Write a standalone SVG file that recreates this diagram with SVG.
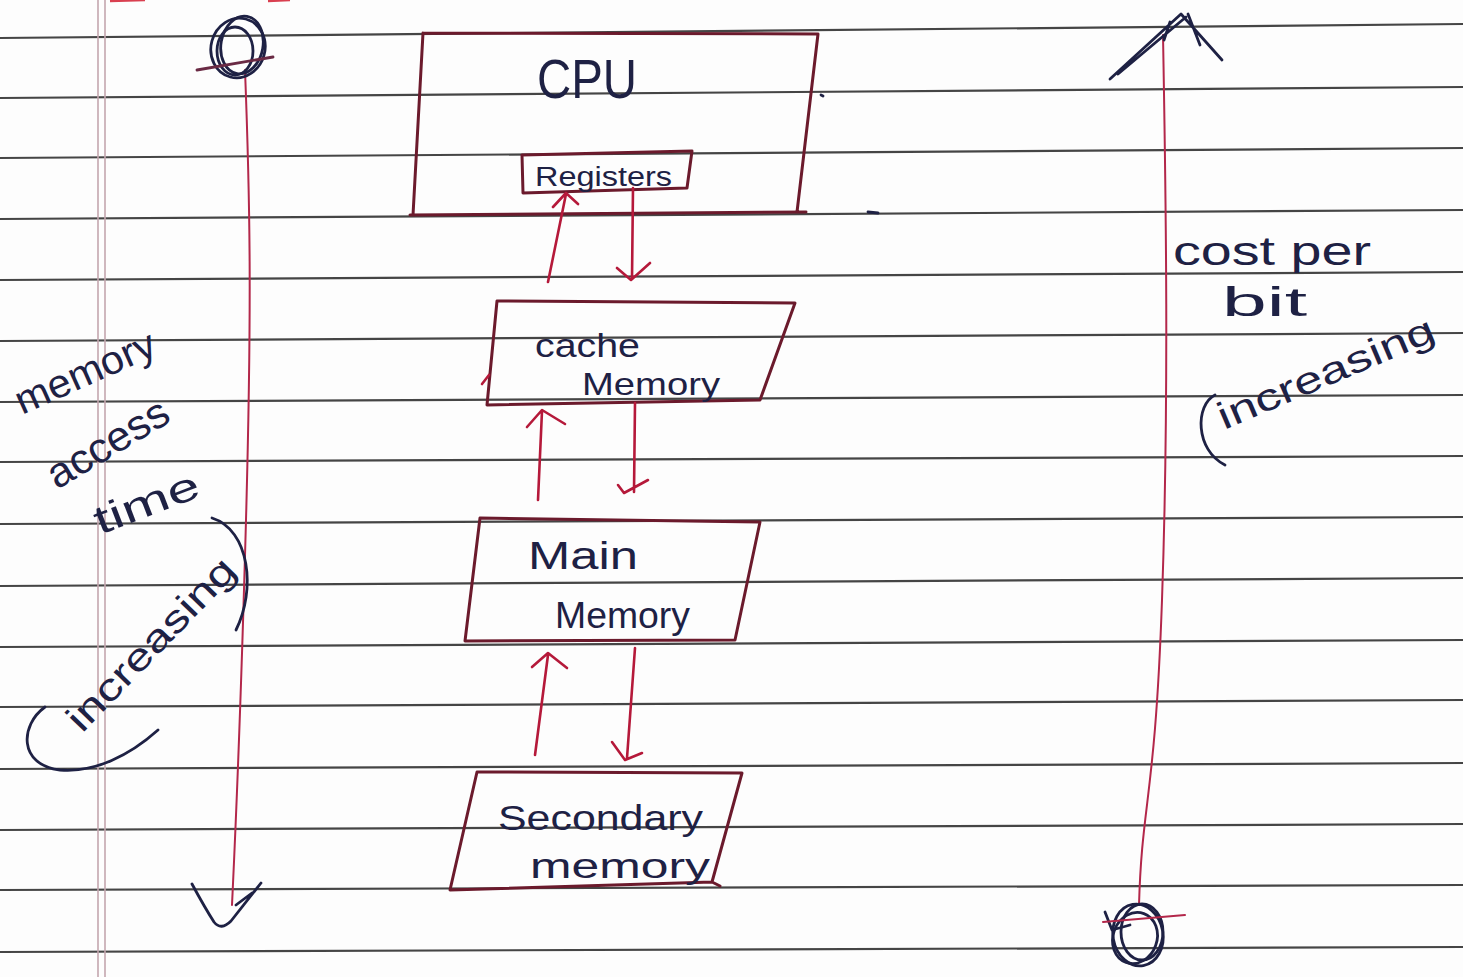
<svg xmlns="http://www.w3.org/2000/svg" width="1463" height="977" viewBox="0 0 1463 977">
<style>
.rule{stroke:#454545;stroke-width:2.2;fill:none}
.margin{stroke:#c3a6ae;stroke-width:1.6;fill:none}
.box{stroke:#6b1a2c;stroke-width:3;fill:none;stroke-linejoin:round;stroke-linecap:round}
.arrow{stroke:#b5193a;stroke-width:2.6;fill:none;stroke-linecap:round;stroke-linejoin:round}
.axis{stroke:#b3274a;stroke-width:2;fill:none;stroke-linecap:round}
.ink{stroke:#1e2144;stroke-width:2.8;fill:none;stroke-linecap:round;stroke-linejoin:round}
.t{font-family:"Liberation Sans","DejaVu Sans",sans-serif;fill:#1e2144}
</style>
<g id="paper">
<rect x="0" y="0" width="1463" height="977" fill="#fdfdfd"/>
<line class="rule" x1="0" y1="38" x2="1463" y2="24"/>
<line class="rule" x1="0" y1="98" x2="1463" y2="87"/>
<line class="rule" x1="0" y1="158" x2="1463" y2="148"/>
<line class="rule" x1="0" y1="219" x2="1463" y2="210"/>
<line class="rule" x1="0" y1="280" x2="1463" y2="272"/>
<line class="rule" x1="0" y1="341" x2="1463" y2="333"/>
<line class="rule" x1="0" y1="402" x2="1463" y2="395"/>
<line class="rule" x1="0" y1="462" x2="1463" y2="456"/>
<line class="rule" x1="0" y1="524" x2="1463" y2="517"/>
<line class="rule" x1="0" y1="586" x2="1463" y2="578"/>
<line class="rule" x1="0" y1="647" x2="1463" y2="640"/>
<line class="rule" x1="0" y1="707" x2="1463" y2="700"/>
<line class="rule" x1="0" y1="769" x2="1463" y2="763"/>
<line class="rule" x1="0" y1="830" x2="1463" y2="824"/>
<line class="rule" x1="0" y1="890" x2="1463" y2="885"/>
<line class="rule" x1="0" y1="952" x2="1463" y2="947"/>
<line class="margin" x1="98" y1="0" x2="98" y2="977"/>
<line class="margin" x1="105" y1="0" x2="105" y2="977" stroke="#b9b0b3"/>
<path d="M110 1 L145 0 M268 1 L290 0" stroke="#d94050" stroke-width="2.5" fill="none"/>
<path d="M821 95 l2 1 M868 212 l10 1" class="ink" stroke-width="2.2"/>
</g>
<g id="cpu">
<path class="box" d="M423 33 L818 34 L797 212 M806 212 L410 215 M423 33 L413 215"/>
<text class="t" x="537" y="98" font-size="56" textLength="100" lengthAdjust="spacingAndGlyphs">CPU</text>
</g>
<g id="registers">
<path class="box" d="M522 155 L692 151 L687 188 L523 193 Z"/>
<text class="t" x="535" y="186" font-size="27" textLength="137" lengthAdjust="spacingAndGlyphs">Registers</text>
</g>
<g id="cache-memory">
<path class="box" d="M497 301 L795 303 L760 400 L487 405 Z"/>
<path class="arrow" d="M482 384 L489 375" stroke-width="2"/>
<text class="t" x="535" y="357" font-size="34" textLength="105" lengthAdjust="spacingAndGlyphs">cache</text>
<text class="t" x="582" y="395" font-size="32" textLength="138" lengthAdjust="spacingAndGlyphs">Memory</text>
</g>
<g id="main-memory">
<path class="box" d="M480 518 L760 522 L735 640 L465 641 Z"/>
<text class="t" x="528" y="569" font-size="38" textLength="110" lengthAdjust="spacingAndGlyphs">Main</text>
<text class="t" x="555" y="628" font-size="36" textLength="135" lengthAdjust="spacingAndGlyphs">Memory</text>
</g>
<g id="secondary-memory">
<path class="box" d="M477 772 L742 773 L712 882 L450 890 Z M712 882 L720 886"/>
<text class="t" x="498" y="830" font-size="35" textLength="205" lengthAdjust="spacingAndGlyphs">Secondary</text>
<text class="t" x="530" y="878" font-size="35" textLength="180" lengthAdjust="spacingAndGlyphs">memory</text>
</g>
<g id="connectors">
<path class="arrow" d="M548 282 L566 194 M553 207 L566 193 L578 204"/>
<path class="arrow" d="M633 188 L632 279 M617 268 L631 280 L650 263"/>
<path class="arrow" d="M538 500 L542 411 M527 427 L542 410 L565 424"/>
<path class="arrow" d="M635 403 L634 492 M618 485 L624 493 L648 480"/>
<path class="arrow" d="M535 755 L548 655 M532 667 L548 653 L567 668"/>
<path class="arrow" d="M635 648 L627 758 M612 742 L625 760 L642 753"/>
</g>
<g id="access-time-axis">
<path class="axis" d="M245 70 C 250 200, 252 300, 246 520 S 236 820, 232 905"/>
<g class="ink">
<ellipse cx="238" cy="48" rx="27" ry="30" transform="rotate(15 238 48)"/>
<ellipse cx="242" cy="45" rx="21" ry="29" transform="rotate(10 242 45)"/>
<ellipse cx="235" cy="51" rx="18" ry="24"/>
<path d="M197 70 L273 57" stroke="#6a2a44"/>
</g>
<path class="ink" d="M192 884 Q 205 908 214 922 Q 221 931 231 921 L261 883 M236 905 L252 893"/>
<text class="t" x="22" y="415" font-size="40" textLength="150" lengthAdjust="spacingAndGlyphs" transform="rotate(-24 22 415)">memory</text>
<text class="t" x="57" y="490" font-size="42" textLength="135" lengthAdjust="spacingAndGlyphs" transform="rotate(-31 57 490)">access</text>
<text class="t" x="100" y="535" font-size="40" textLength="110" lengthAdjust="spacingAndGlyphs" transform="rotate(-21 100 535)">time</text>
<text class="t" x="82" y="734" font-size="38" textLength="225" lengthAdjust="spacingAndGlyphs" transform="rotate(-46 82 734)">increasing</text>
<path class="ink" d="M45 707 C 20 725, 18 765, 60 770 C 95 773, 130 755, 158 730"/>
<path class="ink" d="M212 518 C 250 530, 256 590, 236 630"/>
</g>
<g id="cost-axis">
<path class="axis" d="M1163 35 C 1166 200, 1169 400, 1162 600 S 1142 800, 1139 905"/>
<path class="ink" d="M1110 79 L1181 14 L1222 60 M1118 74 L1186 17 M1188 14 L1200 45 M1170 22 L1164 40"/>
<g class="ink">
<ellipse cx="1138" cy="935" rx="25" ry="31" transform="rotate(-10 1138 935)"/>
<ellipse cx="1142" cy="932" rx="21" ry="28"/>
<ellipse cx="1135" cy="938" rx="22" ry="26" transform="rotate(20 1135 938)"/>
<path d="M1105 912 L1112 930 L1130 925"/>
</g>
<path class="axis" d="M1103 922 L1185 915"/>
<text class="t" x="1173" y="265" font-size="40" textLength="198" lengthAdjust="spacingAndGlyphs">cost per</text>
<text class="t" x="1222" y="316" font-size="40" textLength="85" lengthAdjust="spacingAndGlyphs">bit</text>
<text class="t" x="1224" y="430" font-size="38" textLength="232" lengthAdjust="spacingAndGlyphs" transform="rotate(-23 1224 430)">increasing</text>
<path class="ink" d="M1215 395 C 1195 405, 1195 450, 1225 465"/>
</g>
</svg>
